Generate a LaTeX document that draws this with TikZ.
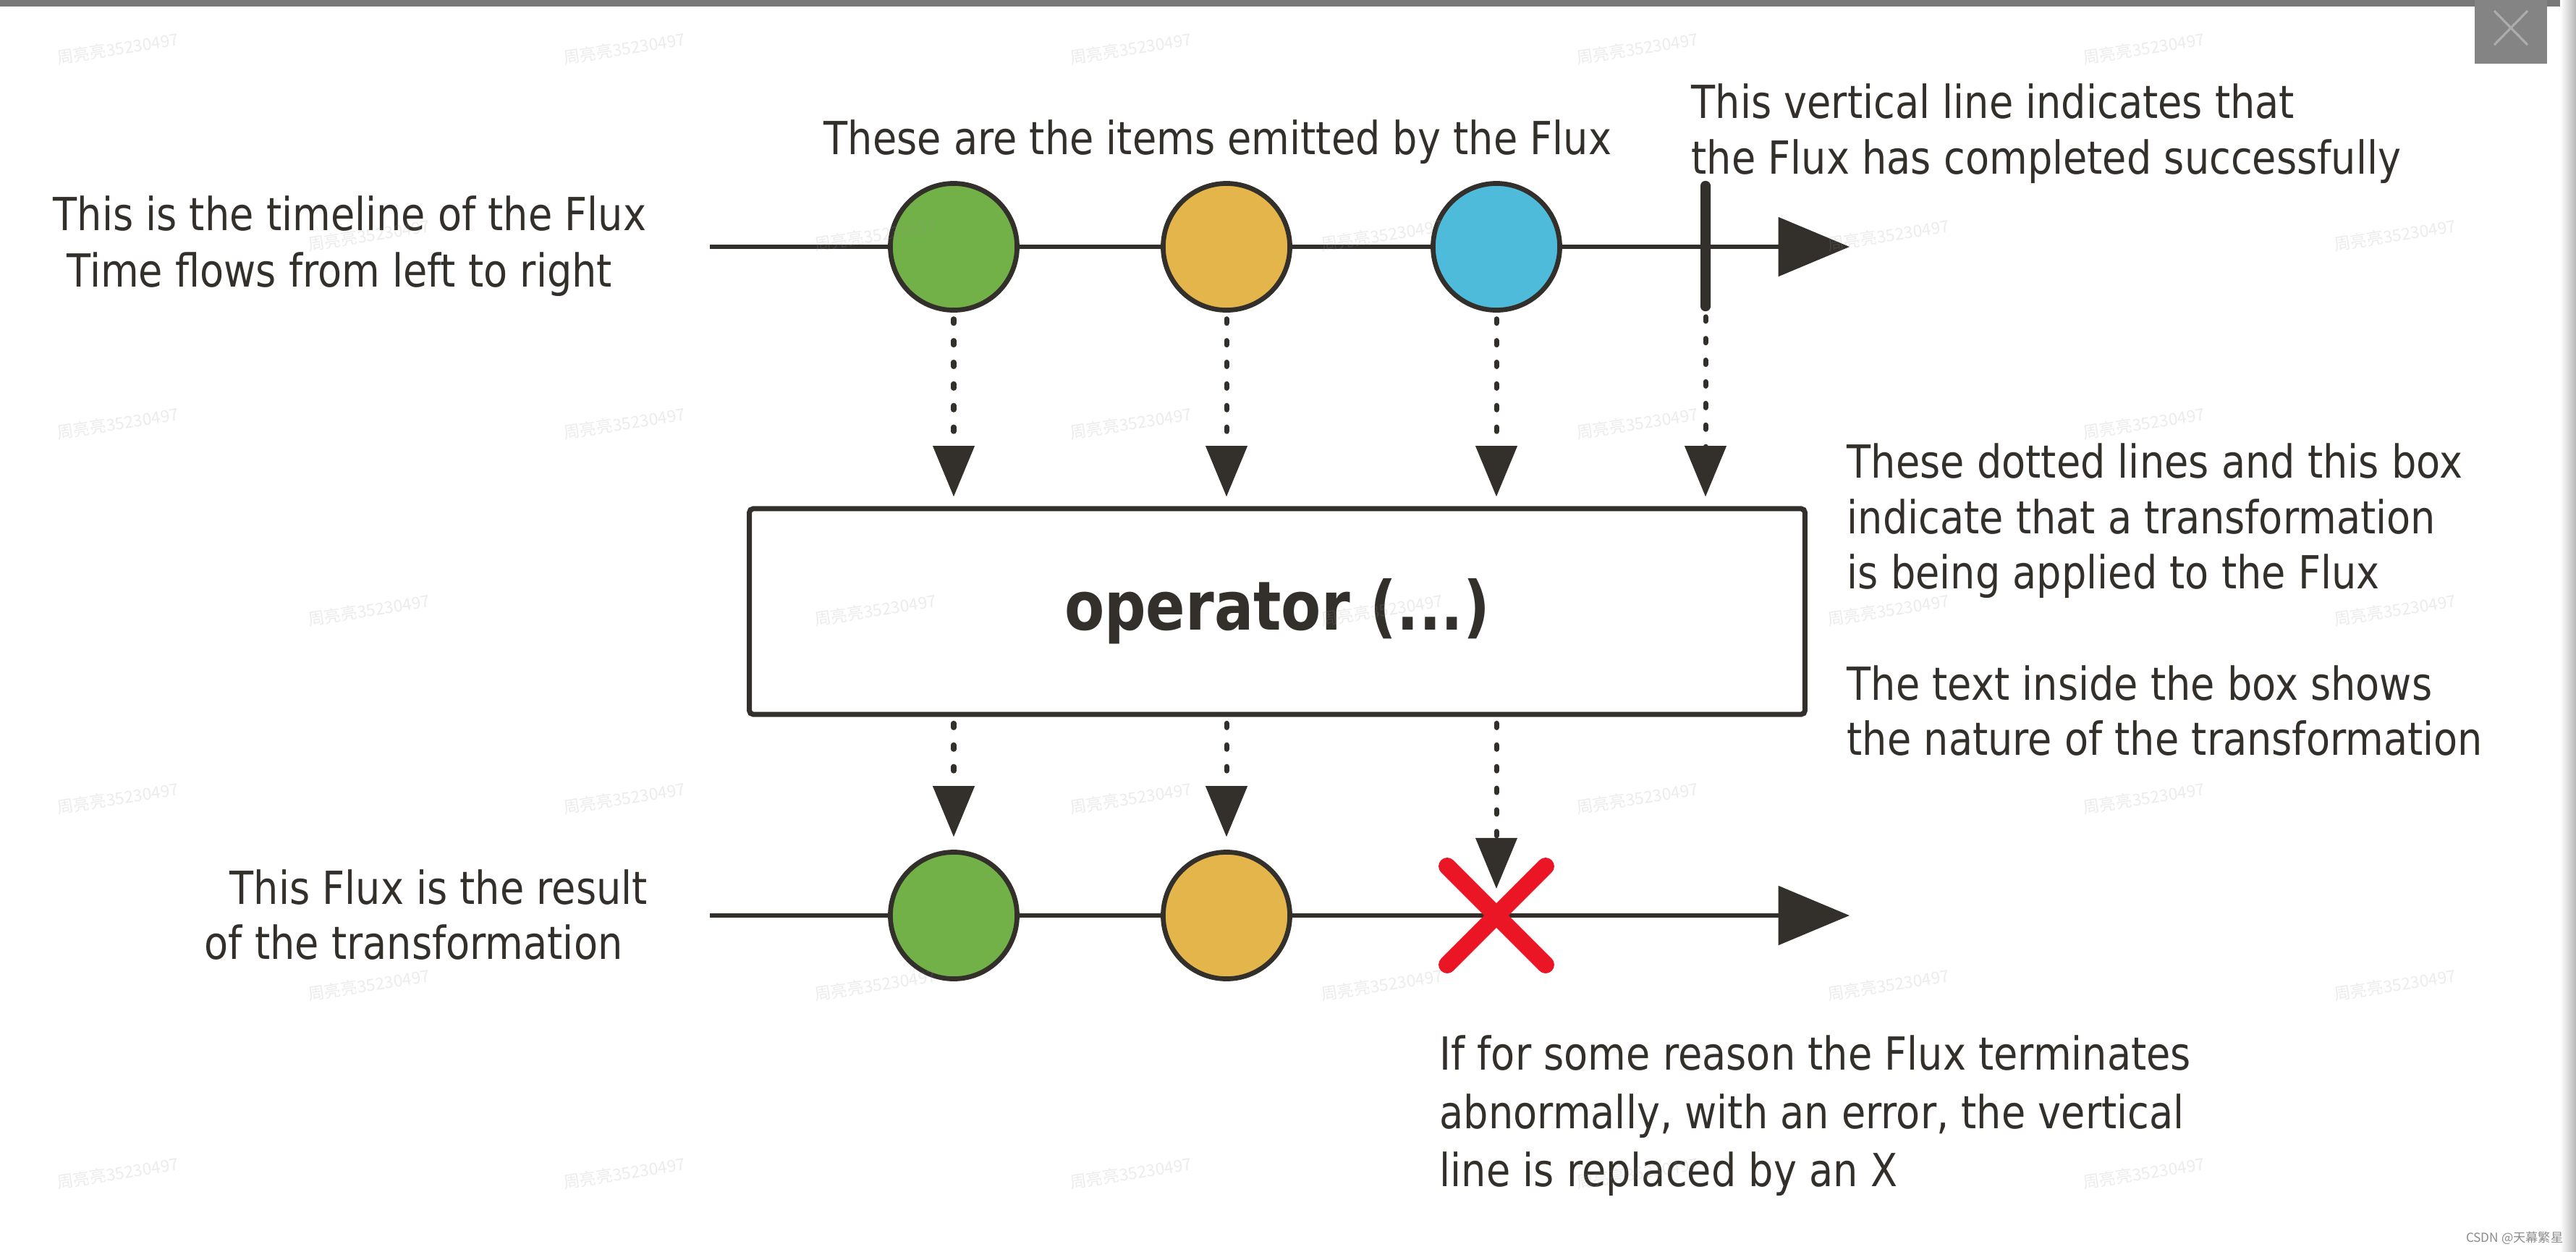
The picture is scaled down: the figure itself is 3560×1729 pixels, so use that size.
\documentclass[tikz,border=0pt]{standalone}
\usepackage{fontspec}
\setmainfont{DejaVu Sans}[FakeStretch=0.86]
\newfontfamily\cjkwm{Noto Sans CJK SC}
\usetikzlibrary{arrows.meta,shapes.misc}
\definecolor{ink}{RGB}{51,48,43}
\definecolor{fgreen}{RGB}{114,176,72}
\definecolor{fyellow}{RGB}{228,181,74}
\definecolor{fblue}{RGB}{79,187,219}
\definecolor{fred}{RGB}{234,22,37}
\definecolor{wmgray}{RGB}{150,150,150}
\definecolor{bandgray}{RGB}{120,120,120}
\definecolor{closegray}{RGB}{132,132,132}
\definecolor{xlight}{RGB}{172,172,172}
\definecolor{csdngray}{RGB}{140,140,140}
\begin{document}
\begin{tikzpicture}[x=0.01cm, y=-0.01cm,
  lbl/.style={anchor=base west, inner sep=0pt, text=ink, font=\fontsize{17.9pt}{22pt}\selectfont},
  timeline/.style={draw=ink, line width=1.7pt, -{Triangle[length=28pt,width=23pt]}},
  item/.style={circle, draw=ink, line width=1.9pt, minimum size=1.75cm, inner sep=0pt},
  dotarrow/.style={draw=ink, line width=2pt, line cap=round, dash pattern=on 1.7pt off 6.8pt, -{Triangle[length=20pt,width=16pt]}},
  wmark/.style={rotate=9, text=wmgray, opacity=0.18, inner sep=0pt, font=\cjkwm\fontsize{6.5pt}{7pt}\selectfont}
]
% canvas
\fill[white] (0,0) rectangle (3560,1729);
\useasboundingbox (0,0) rectangle (3560,1729);
\fill[bandgray] (0,0) rectangle (3560,9);
\fill[closegray] (3420,0) rectangle (3520,88);
\draw[xlight, line width=0.9pt] (3447,15) -- (3493,62) (3493,15) -- (3447,62);
\shade[left color=white, right color=black!28] (3538,0) rectangle (3560,1729);

% timelines
\coordinate (s1) at (981,341);
\coordinate (e1) at (2556,341);
\coordinate (s2) at (981,1265);
\coordinate (e2) at (2556,1265);
\draw[timeline] (s1) -- (e1);
\draw[timeline] (s2) -- (e2);

% items
\node[item, fill=fgreen]  (g1) at (1318,341) {};
\node[item, fill=fyellow] (y1) at (1695,341) {};
\node[item, fill=fblue]   (b1) at (2068,341) {};
\node[rectangle, fill=ink, minimum width=0.14cm, minimum height=1.80cm, inner sep=0pt, rounded corners=1.9pt] (done) at (2357,340) {};

\node[item, fill=fgreen]  (g2) at (1318,1265) {};
\node[item, fill=fyellow] (y2) at (1695,1265) {};
\node[cross out, draw=fred, line width=6.8pt, line cap=round, minimum size=1.12cm, inner sep=0pt] (err) at (2068,1265) {};

% operator box
\node[draw=ink, line width=2pt, rounded corners=1.5pt, minimum width=14.58cm, minimum height=2.84cm, inner sep=0pt, text=ink, font=\bfseries\fontsize{26.6pt}{30pt}\selectfont] (op) at (1765,845) {operator (...)};

% dotted arrows
\draw[dotarrow, shorten <=2.5pt, shorten >=3.7pt] (g1) -- (g1 |- op.north);
\draw[dotarrow, shorten <=2.5pt, shorten >=3.7pt] (y1) -- (y1 |- op.north);
\draw[dotarrow, shorten <=2.5pt, shorten >=3.7pt] (b1) -- (b1 |- op.north);
\draw[dotarrow, shorten <=2pt, shorten >=3.7pt] (done) -- (done |- op.north);
\draw[dotarrow, shorten <=2.5pt, shorten >=5pt] (g1 |- op.south) -- (g2);
\draw[dotarrow, shorten <=2.5pt, shorten >=5pt] (y1 |- op.south) -- (y2);
\draw[dotarrow, shorten <=2.5pt, shorten >=10.5pt] (b1 |- op.south) -- (err.center);

% labels
\node[lbl] (l1a) at (73,318) {This is the timeline of the Flux};
\node[lbl] (l1b) at (92,396) {Time flows from left to right};
\node[lbl] (l2) at (1138,213) {These are the items emitted by the Flux};
\node[lbl] (l3a) at (2337,163) {This vertical line indicates that};
\node[lbl] (l3b) at (2337,240) {the Flux has completed successfully};
\node[lbl] (l4a) at (2552,660) {These dotted lines and this box};
\node[lbl] (l4b) at (2552,737) {indicate that a transformation};
\node[lbl] (l4c) at (2552,813) {is being applied to the Flux};
\node[lbl] (l5a) at (2552,967) {The text inside the box shows};
\node[lbl] (l5b) at (2552,1043) {the nature of the transformation};
\node[lbl] (l6a) at (317,1249) {This Flux is the result};
\node[lbl] (l6b) at (282,1325) {of the transformation};
\node[lbl] (l7a) at (1989,1478) {If for some reason the Flux terminates};
\node[lbl] (l7b) at (1989,1559) {abnormally, with an error, the vertical};
\node[lbl] (l7c) at (1989,1639) {line is replaced by an X};

% watermarks
\foreach \wx in {163,863,1563,2263,2963}
  \foreach \wy in {67,585,1103,1621}
    \node[wmark, name=wa-\wx-\wy] at (\wx,\wy) {周亮亮35230497};
\foreach \wx in {510,1210,1910,2610,3310}
  \foreach \wy in {325,843,1361}
    \node[wmark, name=wb-\wx-\wy] at (\wx,\wy) {周亮亮35230497};
\node[anchor=east, inner sep=0pt, text=csdngray, font=\cjkwm\fontsize{4.9pt}{6pt}\selectfont] (csdn) at (3543,1711) {CSDN @天幕繁星};
\end{tikzpicture}
\end{document}
